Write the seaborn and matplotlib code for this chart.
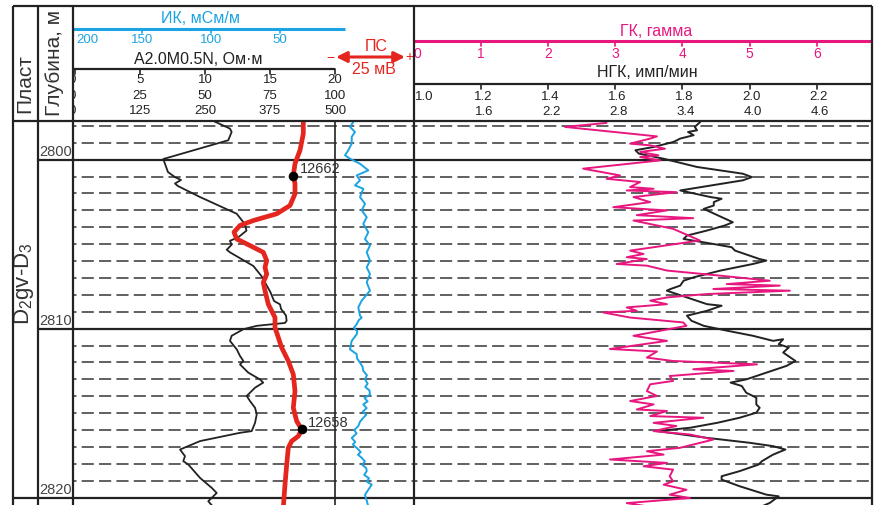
import matplotlib
matplotlib.use('Agg')
import matplotlib.pyplot as plt
import pandas as pd
import seaborn as sns

sns.set_style('white')
plt.rcParams['font.family'] = ['Liberation Sans', 'DejaVu Sans']
plt.rcParams['mathtext.fontset'] = 'custom'
plt.rcParams['mathtext.rm'] = 'Liberation Sans'
plt.rcParams['mathtext.it'] = 'Liberation Sans'

# A2.0M0.5N resistivity, Ohm*m
res_depth = [2797.70, 2798.16, 2798.36, 2798.85, 2799.96, 2800.73, 2801.03, 2801.20, 2801.41, 2801.56,
             2802.21, 2803.20, 2803.82, 2804.20, 2804.59, 2804.80, 2805.03, 2805.33, 2805.48, 2806.29,
             2806.90, 2807.85, 2808.36, 2808.56, 2808.83, 2809.22, 2809.53, 2809.66, 2809.83, 2810.03,
             2810.42, 2810.72, 2811.22, 2811.61, 2811.91, 2812.11, 2812.60, 2813.00, 2813.19, 2813.49,
             2813.98, 2814.28, 2814.68, 2815.07, 2815.57, 2816.06, 2816.16, 2816.65, 2817.15, 2817.54,
             2817.84, 2818.04, 2818.83, 2819.42, 2819.72, 2820.21, 2820.55]
res_val = [10.62, 11.92, 12.05, 11.79, 6.79, 7.15, 7.69, 8.15, 7.69, 7.92,
           9.62, 12.44, 13.08, 13.19, 12.56, 11.92, 12.05, 11.67, 11.92, 13.72,
           14.36, 15.04, 15.31, 15.77, 15.85, 16.23, 16.28, 16.15, 13.98, 12.95,
           12.05, 11.92, 12.44, 12.69, 12.95, 12.69, 13.33, 14.23, 14.48, 13.85,
           13.21, 13.46, 13.85, 13.98, 13.85, 13.59, 12.69, 9.62, 8.08, 8.46,
           8.33, 8.72, 9.62, 10.52, 10.90, 10.25, 10.64]

# SP (ПС), mV
ps_depth = [2797.70, 2798.46, 2799.44, 2800.24, 2800.94, 2801.42, 2802.02, 2802.71, 2803.20, 2803.60,
            2803.89, 2804.29, 2804.69, 2805.08, 2805.48, 2805.97, 2806.37, 2806.77, 2807.26, 2807.75,
            2808.55, 2809.34, 2809.93, 2810.52, 2811.12, 2811.91, 2812.70, 2813.69, 2814.68, 2815.47,
            2815.96, 2816.36, 2816.65, 2817.05, 2818.04, 2819.23, 2820.57]
ps_val = [-11.32, -11.32, -12.50, -14.29, -14.89, -14.29, -14.29, -16.07, -20.82, -29.18,
          -33.93, -36.07, -35.11, -30.36, -25.61, -24.39, -25.00, -24.39, -25.61, -25.00,
          -23.82, -21.43, -21.43, -20.25, -19.04, -16.68, -14.89, -14.29, -14.89, -13.68,
          -11.89, -13.11, -15.46, -16.68, -17.25, -17.86, -18.46]

# sample points on the SP curve
marker_depth = [2800.94, 2815.96]
marker_ps = [-14.89, -11.89]
marker_labels = ['12662', '12658']

# induction log (ИК), mS/m
ik_depth = [2797.76, 2798.06, 2798.36, 2798.65, 2799.05, 2799.44, 2799.74, 2799.94, 2800.24, 2800.63,
            2800.93, 2801.22, 2801.52, 2801.72, 2802.21, 2802.61, 2803.00, 2803.40, 2803.80, 2804.29,
            2804.69, 2805.08, 2805.48, 2805.97, 2806.37, 2806.77, 2807.26, 2807.75, 2808.34, 2808.74,
            2809.23, 2809.34, 2809.50, 2809.73, 2809.95, 2810.15, 2810.33, 2810.72, 2811.22, 2811.51,
            2811.75, 2812.01, 2812.25, 2812.50, 2812.75, 2813.00, 2813.25, 2813.45, 2813.65, 2813.89,
            2814.10, 2814.30, 2814.48, 2814.70, 2814.90, 2815.10, 2815.27, 2815.50, 2815.76, 2816.00,
            2816.20, 2816.46, 2816.70, 2816.85, 2817.05, 2817.30, 2817.45, 2817.64, 2817.85, 2818.05,
            2818.25, 2818.43, 2818.65, 2818.85, 2819.05, 2819.23, 2819.82, 2820.51]
ik_val = [-3.12, -0.72, -4.35, -1.96, -1.96, 0.51, 2.90, -0.72, -7.97, -13.98,
          -5.58, -7.97, -4.35, -10.36, -7.97, -11.59, -9.20, -12.83, -10.36, -13.98,
          -11.59, -15.22, -12.83, -15.22, -12.83, -15.22, -12.83, -15.22, -9.20, -6.74,
          -7.97, -9.20, -7.00, -5.58, -3.50, -6.00, -5.58, -1.96, -0.72, -5.58,
          -5.80, -7.97, -9.80, -10.36, -13.00, -11.59, -13.50, -11.80, -14.80, -15.22,
          -11.20, -13.50, -10.36, -12.80, -10.00, -12.50, -10.36, -8.00, -6.74, -3.80,
          -5.50, -1.96, -4.50, -2.80, -5.58, -8.50, -6.50, -9.20, -11.50, -9.50,
          -12.50, -12.83, -11.00, -14.50, -13.00, -16.45, -11.59, -13.98]

# neutron gamma log (НГК), imp/min
ngk_depth = [2797.76, 2798.06, 2798.26, 2798.36, 2798.55, 2798.75, 2798.95, 2799.25, 2799.44, 2799.64,
             2799.94, 2800.43, 2800.83, 2801.03, 2801.22, 2801.82, 2802.21, 2802.31, 2802.51, 2802.71,
             2802.91, 2803.70, 2803.89, 2804.19, 2804.49, 2804.69, 2804.99, 2805.18, 2805.38, 2805.88,
             2805.97, 2806.17, 2806.56, 2806.96, 2807.16, 2807.45, 2807.66, 2807.75, 2808.15, 2808.55,
             2808.64, 2808.94, 2809.23, 2809.53, 2809.83, 2810.12, 2810.42, 2810.72, 2810.62, 2810.92,
             2811.11, 2811.41, 2811.91, 2812.20, 2812.60, 2813.00, 2813.19, 2813.39, 2813.79, 2814.08,
             2814.48, 2814.68, 2814.97, 2815.27, 2815.57, 2815.86, 2816.06, 2816.16, 2816.46, 2816.75,
             2816.95, 2817.15, 2817.45, 2817.84, 2818.04, 2818.43, 2818.73, 2818.93, 2819.32, 2819.82,
             2819.92, 2820.31, 2820.57]
ngk_val = [3.56, 3.51, 3.53, 3.45, 3.50, 3.38, 3.32, 3.14, 2.98, 3.01,
           3.23, 3.53, 3.94, 4.02, 3.94, 3.38, 3.65, 3.75, 3.68, 3.68,
           3.59, 3.85, 3.78, 3.62, 3.44, 3.41, 3.68, 3.84, 3.87, 4.09,
           4.15, 4.03, 3.74, 3.50, 3.41, 3.38, 3.29, 3.26, 3.44, 3.62,
           3.75, 3.62, 3.44, 3.48, 3.59, 3.80, 4.03, 4.21, 4.30, 4.26,
           4.35, 4.30, 4.41, 4.33, 4.15, 3.97, 3.83, 3.93, 3.97, 4.06,
           4.06, 4.09, 4.06, 3.91, 3.71, 3.47, 3.17, 3.29, 3.62, 4.00,
           4.21, 4.32, 4.21, 4.11, 4.08, 3.91, 3.75, 3.75, 3.91, 4.15,
           4.26, 4.18, 4.09]

# gamma log (ГК), gamma
gk_depth = [2797.82, 2797.90, 2798.06, 2798.62, 2798.75, 2799.05, 2799.15, 2799.35, 2799.54, 2799.74,
            2799.84, 2800.04, 2800.53, 2800.93, 2801.13, 2801.32, 2801.62, 2801.72, 2801.82, 2801.92,
            2802.21, 2802.51, 2802.81, 2803.00, 2803.28, 2803.46, 2803.60, 2804.09, 2804.78, 2805.38,
            2805.58, 2805.77, 2805.88, 2806.17, 2806.27, 2806.56, 2806.86, 2807.16, 2807.36, 2807.45,
            2807.65, 2807.75, 2807.95, 2808.15, 2808.34, 2808.55, 2808.74, 2808.94, 2809.04, 2809.34,
            2809.63, 2809.83, 2810.42, 2810.72, 2811.20, 2811.35, 2811.71, 2811.91, 2812.11, 2812.40,
            2812.50, 2812.80, 2813.09, 2813.29, 2813.69, 2813.98, 2814.28, 2814.48, 2814.78, 2814.87,
            2815.17, 2815.27, 2815.57, 2815.76, 2816.06, 2816.26, 2816.56, 2817.05, 2817.25, 2817.45,
            2817.74, 2817.94, 2818.14, 2818.34, 2818.73, 2819.03, 2819.23, 2819.53, 2819.82, 2820.02,
            2820.32, 2820.51]
gk_val = [2.87, 2.67, 2.25, 3.62, 3.52, 3.22, 3.52, 3.74, 3.37, 3.64,
          3.37, 3.67, 2.52, 3.07, 2.87, 3.37, 3.22, 3.57, 3.17, 3.91,
          3.27, 3.52, 2.97, 3.77, 3.32, 4.16, 3.27, 3.86, 4.26, 3.22,
          3.42, 3.17, 3.47, 3.02, 3.47, 3.77, 4.56, 5.30, 4.66, 5.45,
          4.46, 5.60, 4.36, 3.77, 3.52, 3.77, 3.17, 3.32, 2.82, 3.22,
          4.01, 4.06, 3.27, 3.77, 2.92, 3.62, 3.47, 3.86, 5.11, 4.16,
          4.76, 3.81, 3.86, 3.52, 3.47, 3.62, 3.22, 3.57, 3.32, 3.77,
          3.52, 4.31, 3.57, 3.91, 3.57, 4.11, 4.46, 3.96, 3.47, 3.72,
          2.92, 3.77, 3.42, 3.86, 3.81, 3.86, 3.72, 4.06, 3.81, 4.11,
          3.17, 3.47]

# grid / labels
depth_labels = [2800, 2810, 2820]
dashed_depths = [2798, 2799] + list(range(2801, 2810)) + list(range(2811, 2820))
res_ticks = [0, 5, 10, 15, 20]
res_row2 = ['0', '25', '50', '75', '100']
res_row3 = ['0', '125', '250', '375', '500']
ik_ticks = [200, 150, 100, 50]
gk_ticks = [0, 1, 2, 3, 4, 5, 6]
ngk_ticks = [1.0, 1.2, 1.4, 1.6, 1.8, 2.0, 2.2]
ngk_row2 = ['', '1.6', '2.2', '2.8', '3.4', '4.0', '4.6']

# ---------------- styling / layout ----------------
RED = '#e4261f'
BLUE = '#1ba3e3'
PINK = '#e8177f'
INK = '#222222'
GRID = '#4d4d4d'
TXT = '#333333'

W, H = 880, 506
fig = plt.figure(figsize=(W / 100, H / 100), dpi=100)
fig.patch.set_facecolor('white')


def rect(x0, y0, x1, y1):
    return [x0 / W, 1 - y1 / H, (x1 - x0) / W, (y1 - y0) / H]


Y0, PXM = 160.7, 16.9


def depth_at(y):
    return 2800 + (y - Y0) / PXM


D_TOP, D_BOT = depth_at(122), depth_at(506)

# pixel = p0 + k * value
RES = (75.0, 13.0)
PS = (335.0, 2.8)
IK = (349.0, -1.38)
GK = (413.9, 67.14)
NGK = (302.0, 111.9)
NGK1 = (78.2, 335.7)


def px(s, v):
    return s[0] + s[1] * v


def lims(s, a, b):
    return ((a - s[0]) / s[1], (b - s[0]) / s[1])


L0, L1, R1 = 73, 414, 872


def track(x0, x1, z, share=None):
    ax = fig.add_axes(rect(x0, 122, x1, 506), sharey=share, zorder=z)
    ax.set_facecolor('none')
    ax.set_axis_off()
    return ax


def grid(ax):
    for d in dashed_depths:
        ax.axhline(d, color=GRID, lw=1.25, ls=(5, (7, 3)), zorder=0)
    for d in depth_labels:
        ax.axhline(d, color=INK, lw=1.6, zorder=0)


# left track
ax_res = track(L0, L1, 1)
grid(ax_res)
ax_res.axvline(20, color=INK, lw=1.2, zorder=0)
sns.lineplot(data=pd.DataFrame({'d': res_depth, 'v': res_val}), x='v', y='d', sort=False,
             estimator=None, orient='y', ax=ax_res, color=INK, lw=1.3, legend=False)
ax_res.set_xlim(*lims(RES, L0, L1))
ax_res.set_ylim(D_BOT, D_TOP)

ax_ik = track(L0, L1, 2, ax_res)
sns.lineplot(data=pd.DataFrame({'d': ik_depth, 'v': ik_val}), x='v', y='d', sort=False,
             estimator=None, orient='y', ax=ax_ik, color=BLUE, lw=1.4, legend=False)
ax_ik.set_xlim(*lims(IK, L0, L1))

ax_ps = track(L0, L1, 3, ax_res)
sns.lineplot(data=pd.DataFrame({'d': ps_depth, 'v': ps_val}), x='v', y='d', sort=False,
             estimator=None, orient='y', ax=ax_ps, color=RED, lw=3.4, legend=False)
sns.scatterplot(x=marker_ps, y=marker_depth, ax=ax_ps, color='black', s=48,
                linewidth=0, zorder=5, legend=False)
for xv, dv, lab in zip(marker_ps, marker_depth, marker_labels):
    ax_ps.annotate(lab, (xv, dv), xytext=(4.5, 5.5), textcoords='offset points',
                   ha='left', va='center', fontsize=10.5, color=TXT)
ax_ps.set_xlim(*lims(PS, L0, L1))
ax_ps.set_ylim(D_BOT, D_TOP)

# right track
ax_ngk = track(L1, R1, 1, ax_res)
grid(ax_ngk)
sns.lineplot(data=pd.DataFrame({'d': ngk_depth, 'v': ngk_val}), x='v', y='d', sort=False,
             estimator=None, orient='y', ax=ax_ngk, color=INK, lw=1.4, legend=False)
ax_ngk.set_xlim(*lims(NGK, L1, R1))

ax_gk = track(L1, R1, 2, ax_res)
sns.lineplot(data=pd.DataFrame({'d': gk_depth, 'v': gk_val}), x='v', y='d', sort=False,
             estimator=None, orient='y', ax=ax_gk, color=PINK, lw=1.4, legend=False)
ax_gk.set_xlim(*lims(GK, L1, R1))
ax_gk.set_ylim(D_BOT, D_TOP)

# depth column
ax_dep = track(38, L0, 1, ax_res)
for d in depth_labels:
    ax_dep.axhline(d, color=INK, lw=1.6)
    ax_dep.text(0.98, d - 0.12, str(d), transform=ax_dep.get_yaxis_transform(),
                ha='right', va='bottom', fontsize=10.5, color='#444444')
ax_dep.set_ylim(D_BOT, D_TOP)

# stratum column
ax_st = track(13, 38, 1, ax_res)
ax_st.axhline(2820, color=INK, lw=1.6)
ax_st.text(0.45, 2807.3, r'D$_2$gv-D$_3$', transform=ax_st.get_yaxis_transform(),
           rotation=90, ha='center', va='center', fontsize=16, color=TXT)
ax_st.set_ylim(D_BOT, D_TOP)

# ---------------- headers ----------------
def header(x0, x1, z):
    ax = fig.add_axes(rect(x0, 7, x1, 122), zorder=z)
    ax.set_facecolor('none')
    ax.set_axis_off()
    ax.set_xlim(x0, x1)
    ax.set_ylim(122, 7)
    return ax


hl = header(L0, L1, 21)
hl.text(200, 19, 'ИК, мСм/м', color=BLUE, fontsize=11.5, ha='center', va='center')
hl.plot([L0, 345], [29.7, 29.7], color=BLUE, lw=2.2, solid_capstyle='butt')
for i, v in enumerate(ik_ticks):
    x = px(IK, v)
    hl.plot([x, x], [29.7, 34], color=BLUE, lw=1.2)
    if i == 0:
        hl.text(76, 40, str(v), color=BLUE, fontsize=9.5, ha='left', va='center')
    else:
        hl.text(x, 40, str(v), color=BLUE, fontsize=9.5, ha='center', va='center')
hl.text(198, 60, 'A2.0M0.5N, Ом·м', color=INK, fontsize=11.5, ha='center', va='center')
hl.plot([L0, px(RES, 20)], [70, 70], color=INK, lw=1.6, solid_capstyle='butt')
for v, r2, r3 in zip(res_ticks, res_row2, res_row3):
    x = px(RES, v)
    hl.plot([x, x], [70, 75], color=INK, lw=1.2)
    xt = x - 3 if v == 0 else x
    hl.text(xt, 80.5, str(v), color=INK, fontsize=9.5, ha='center', va='center', clip_on=True)
    hl.text(xt, 96, r2, color=INK, fontsize=9.5, ha='center', va='center', clip_on=True)
    hl.text(xt, 111.5, r3, color=INK, fontsize=9.5, ha='center', va='center', clip_on=True)
# SP legend
hl.text(376, 47, 'ПС', color=RED, fontsize=11.5, ha='center', va='center')
hl.text(374, 70, '25 мВ', color=RED, fontsize=11.5, ha='center', va='center')
hl.annotate('', xy=(336, 58), xytext=(405, 58),
            arrowprops=dict(arrowstyle='<|-|>', color=RED, lw=2.2, mutation_scale=16,
                            shrinkA=0, shrinkB=0))
hl.text(330, 58, '−', color=RED, fontsize=10, ha='center', va='center')
hl.text(409, 57, '+', color=RED, fontsize=10, ha='center', va='center')

hr = header(L1, R1, 21)
hr.text(656, 32, 'ГК, гамма', color=PINK, fontsize=11.5, ha='center', va='center')
hr.plot([L1, R1], [42.3, 42.3], color=PINK, lw=2.2, solid_capstyle='butt')
for v in gk_ticks:
    x = px(GK, v)
    hr.plot([x, x], [42.3, 47], color=PINK, lw=1.2)
    hr.text(x + (3 if v == 0 else 0), 54, str(v), color=PINK, fontsize=10,
            ha='center', va='center', clip_on=True)
hr.text(647, 73, 'НГК, имп/мин', color=INK, fontsize=11.5, ha='center', va='center')
hr.plot([L1, R1], [85, 85], color=INK, lw=1.6)
for v, r2 in zip(ngk_ticks, ngk_row2):
    x = px(NGK1, v)
    hr.plot([x, x], [85, 90], color=INK, lw=1.2)
    if v == 1.0:
        hr.text(L1 + 1, 97, f'{v:.1f}', color=INK, fontsize=9.5, ha='left', va='center')
    else:
        hr.text(x + 2, 97, f'{v:.1f}', color=INK, fontsize=9.5, ha='center', va='center')
    hr.text(x + 3, 112, r2, color=INK, fontsize=9.5, ha='center', va='center')

# ---------------- frame ----------------
bg = fig.add_axes([0, 0, 1, 1], zorder=30)
bg.set_facecolor('none')
bg.set_axis_off()
bg.set_xlim(0, W)
bg.set_ylim(H, 0)
for x in [13, 38, L0, L1, R1]:
    bg.plot([x, x], [7, H], color=INK, lw=1.6, solid_capstyle='butt')
for y in [7, 122]:
    bg.plot([13, R1], [y, y], color=INK, lw=1.6, solid_capstyle='butt')
bg.text(25, 84, 'Пласт', rotation=90, fontsize=15, color=TXT, ha='center', va='center')
bg.text(55, 63, 'Глубина, м', rotation=90, fontsize=15, color=TXT, ha='center', va='center')

fig.savefig('out.png', dpi=100, facecolor='white')
